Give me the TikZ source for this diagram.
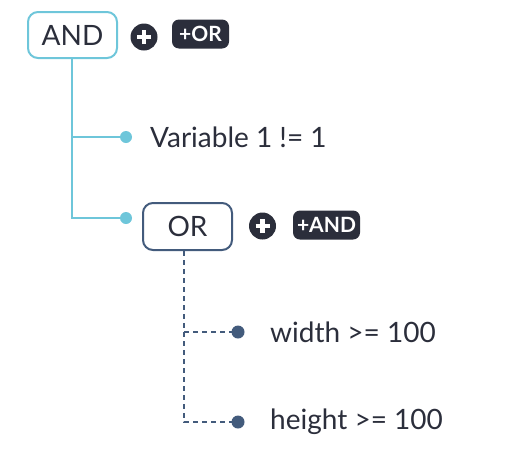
\documentclass[tikz,border=0pt]{standalone}
\usepackage{fontspec}
\setmainfont{Lato}
\usetikzlibrary{positioning}
\definecolor{andcol}{HTML}{6EC6DA}
\definecolor{orcol}{HTML}{435B7C}
\definecolor{inkcol}{HTML}{2B2E3B}
\tikzset{
  grp/.style={draw=#1, line width=2pt, rounded corners=10pt, minimum width=89pt, minimum height=46pt, inner sep=0pt, font=\fontsize{28}{30}\selectfont, text=inkcol},
  plusbtn/.style={circle, fill=inkcol, minimum size=27pt, inner sep=0pt,
    path picture={\draw[white, line width=4.5pt] ([xshift=-7pt]path picture bounding box.center) -- ([xshift=7pt]path picture bounding box.center);
                  \draw[white, line width=4.5pt] ([yshift=-7pt]path picture bounding box.center) -- ([yshift=7pt]path picture bounding box.center);}},
  addbtn/.style={fill=inkcol, rounded corners=7pt, text=white, font=\bfseries\fontsize{21}{21}\selectfont, minimum height=29pt, inner sep=2pt},
  dot/.style={circle, fill=#1, minimum size=12pt, inner sep=0pt},
  cond/.style={anchor=west, font=\fontsize{28}{30}\selectfont, text=inkcol, inner sep=0pt},
}
\begin{document}
\begin{tikzpicture}[x=1pt, y=-1pt]
  \useasboundingbox (0,0) rectangle (513,461);
  % top group
  \node[grp=andcol] (andbox) at (72.5,35) {AND};
  \node[plusbtn] (andplus) at (144,37) {};
  \node[addbtn, minimum width=57pt] (addor) at (200.5,34) {+OR};
  \coordinate (andstem) at (72,58);
  \node[dot=andcol] (d1) at (126,137) {};
  \node[dot=andcol] (d2) at (126,218) {};
  \node[cond] (c1) at (150,137) {Variable 1 != 1};
  \draw[andcol, line width=1.3pt] (andstem) |- (d2.center);
  \draw[andcol, line width=1.3pt] (d1.center -| andstem) -- (d1.center);
  % nested group
  \node[grp=orcol, minimum height=47pt] (orbox) at (187.5,226.5) {OR};
  \node[plusbtn] (orplus) at (262.5,226) {};
  \node[addbtn, minimum width=67pt] (addand) at (326.5,225) {+AND};
  \coordinate (orstem) at (184,251);
  \node[dot=orcol, minimum size=13pt] (d3) at (238,332) {};
  \node[dot=orcol, minimum size=13pt] (d4) at (238,422) {};
  \node[cond] (c3) at (270,332) {width >= 100};
  \node[cond] (c4) at (270,422) {height >= 100};
  \draw[orcol, line width=1.2pt, dash pattern=on 5pt off 4pt] (orstem) |- (d4.center);
  \draw[orcol, line width=1.2pt, dash pattern=on 5pt off 4pt] (d3.center -| orstem) -- (d3.center);
\end{tikzpicture}
\end{document}
